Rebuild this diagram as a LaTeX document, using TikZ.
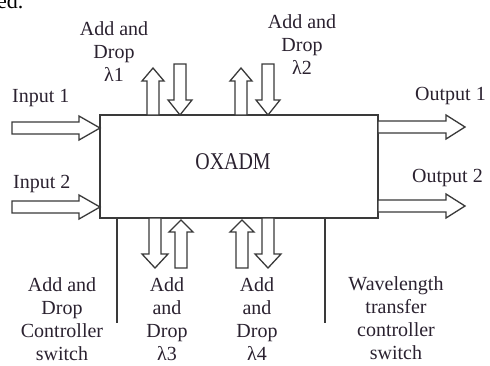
\documentclass[tikz,border=0pt]{standalone}
\usepackage{fontspec}
\setmainfont{Liberation Serif}
\usetikzlibrary{calc}
\definecolor{ln}{HTML}{3A3A3A}
\definecolor{tx}{HTML}{2B2230}
\tikzset{
  lbl/.style={font=\fontsize{20}{23}\selectfont, text=tx, align=center, inner sep=0pt},
  barrow/.style={draw=ln, line width=1.3pt, fill=white, line join=miter},
  ctl/.style={draw=ln, line width=1.3pt},
}
% #1 start (x,y), #2 length, #3 angle, #4 head half width, #5 head length
\newcommand\blockarr[5]{%
  \begin{scope}[shift={#1}, rotate=#3]
    \draw[barrow] (0,-6) -- ({#2-#5},-6) -- ({#2-#5},-#4) -- (#2,0) -- ({#2-#5},#4) -- ({#2-#5},6) -- (0,6) -- cycle;
  \end{scope}}
\begin{document}
\begin{tikzpicture}[x=1pt,y=-1pt]
\useasboundingbox (0,0) rectangle (490,365);
\fill[white] (0,0) rectangle (490,365);
% fragment of text at top left
\node[lbl, font=\fontsize{22}{26}\selectfont, text=black, anchor=base west] (frag) at (-3,8) {ed.};
% main box
\node[draw=ln, line width=1.3pt, minimum width=278pt, minimum height=103pt, inner sep=0pt] (oxadm) at (239,166.5) {};
\node[lbl, font=\fontsize{24}{28}\selectfont] (t) at (233,162) {\scalebox{0.83}[1]{OXADM}};
% inputs / outputs
\blockarr{(12,128)}{88}{0}{12}{21}
\blockarr{(12,207)}{88}{0}{12}{21}
\blockarr{(378,127)}{87}{0}{12}{19}
\blockarr{(378,206)}{87}{0}{12}{19}
% top add/drop
\blockarr{(153,115)}{47}{90}{11}{13}
\blockarr{(180,64)}{51}{-90}{12}{15}
\blockarr{(241,115)}{47}{90}{11}{13}
\blockarr{(268,64)}{51}{-90}{12}{15}
% bottom add/drop
\blockarr{(155,218)}{50}{-90}{13}{14}
\blockarr{(181,268)}{48}{90}{12}{12}
\blockarr{(242,268)}{48}{90}{12}{12}
\blockarr{(268,218)}{50}{-90}{13}{14}
% controller lines
\coordinate (c1) at (117,323);
\coordinate (c2) at (325,323);
\draw[ctl] (c1 |- oxadm.south) -- (c1);
\draw[ctl] (c2 |- oxadm.south) -- (c2);
% labels
\node[lbl, anchor=north] (l1) at (114,21) {Add and\\Drop\\λ1};
\node[lbl, anchor=north] (l2) at (302,14) {Add and\\Drop\\λ2};
\node[lbl, anchor=base west] (i1) at (12,102) {Input 1};
\node[lbl, anchor=base west] (i2) at (13,188) {Input 2};
\node[lbl, anchor=base west] (o1) at (415,100) {Output 1};
\node[lbl, anchor=base west] (o2) at (412,182) {Output 2};
\node[lbl, anchor=north] (l5) at (62,277) {Add and\\Drop\\Controller\\switch};
\node[lbl, anchor=north] (l3) at (167,277) {Add\\and\\Drop\\λ3};
\node[lbl, anchor=north] (l4) at (257,277) {Add\\and\\Drop\\λ4};
\node[lbl, anchor=north] (l6) at (396,276) {Wavelength\\transfer\\controller\\switch};
\end{tikzpicture}
\end{document}
